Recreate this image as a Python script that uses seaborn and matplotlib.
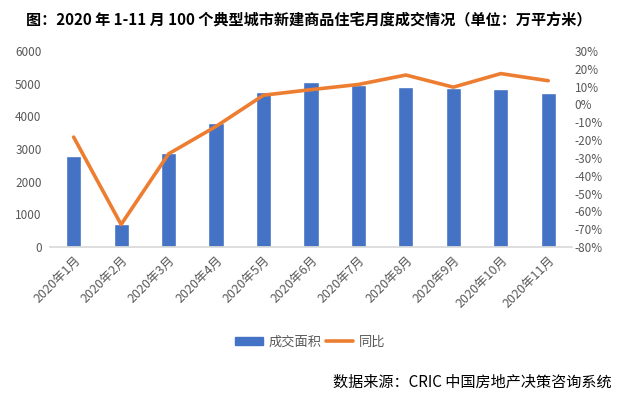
import numpy as np
import pandas as pd
import matplotlib
matplotlib.use("Agg")
import matplotlib.pyplot as plt
import seaborn as sns
from matplotlib.ticker import FuncFormatter
from matplotlib.lines import Line2D
from matplotlib.patches import Patch

# ------------------------------
# data
# ------------------------------
months = ["2020年1月", "2020年2月", "2020年3月", "2020年4月", "2020年5月", "2020年6月",
          "2020年7月", "2020年8月", "2020年9月", "2020年10月", "2020年11月"]
area = [2780, 700, 2880, 3800, 4750, 5050, 4960, 4900, 4880, 4830, 4720]
yoy = [-18.3, -67.3, -27.7, -12.3, 5.2, 8.3, 11.2, 16.5, 9.7, 17.3, 13.3]

bar_color = "#4472C4"
line_color = "#ED7D31"
grey = "#595959"

sns.set_theme(style="white")
plt.rcParams['font.family'] = ['Noto Sans CJK SC', 'DejaVu Sans']

df = pd.DataFrame({"month": months, "area": area, "yoy": yoy})

fig = plt.figure(figsize=(6.32, 3.98), dpi=100)
ax = fig.add_axes([0.079, 0.379, 0.826, 0.493])

sns.barplot(data=df, x="month", y="area", color=bar_color, width=0.32,
            saturation=1, ax=ax)
ax.set_ylim(0, 6000)
ax.set_yticks(range(0, 6001, 1000))
ax.set_xlabel("")
ax.set_ylabel("")
ax.tick_params(axis="y", length=0, labelsize=8.5, labelcolor=grey, pad=6)
ax.tick_params(axis="x", length=0, labelsize=9, labelcolor=grey, pad=5)
plt.setp(ax.get_xticklabels(), rotation=45, ha="right", rotation_mode="anchor")
for s in ["left", "right", "top"]:
    ax.spines[s].set_visible(False)
ax.spines["bottom"].set_color("#d9d9d9")
# little tick marks between categories
ax.set_xticks(np.arange(-0.5, len(months), 1), minor=True)
ax.tick_params(axis="x", which="minor", length=4, color="#d9d9d9", direction="out")

ax2 = ax.twinx()
sns.lineplot(x=np.arange(len(months)), y=yoy, color=line_color, linewidth=2.6, ax=ax2)
ax2.set_ylim(-80, 30)
ax2.set_yticks(range(-80, 31, 10))
ax2.yaxis.set_major_formatter(FuncFormatter(lambda v, p: f"{v:.0f}%"))
ax2.tick_params(axis="y", length=0, labelsize=8.5, labelcolor=grey, pad=2)
for s in ["left", "right", "top", "bottom"]:
    ax2.spines[s].set_visible(False)
ax.set_xlim(-0.5, len(months) - 0.5)

fig.text(0.041, 0.95, "图：2020 年 1-11 月 100 个典型城市新建商品住宅月度成交情况（单位：万平方米）",
         fontsize=10.9, fontweight="bold", color="black", va="center", ha="left")

handles = [Patch(color=bar_color), Line2D([0], [0], color=line_color, linewidth=2.6)]
fig.legend(handles, ["成交面积", "同比"], loc="center", bbox_to_anchor=(0.491, 0.141),
           ncol=2, frameon=False, fontsize=9.5, labelcolor=grey, handlelength=2.1,
           handleheight=0.6, columnspacing=0.3, handletextpad=0.45)

fig.text(0.968, 0.04, "数据来源：CRIC 中国房地产决策咨询系统", fontsize=10.9,
         color="black", ha="right", va="center")

fig.savefig("out.png", dpi=100)
